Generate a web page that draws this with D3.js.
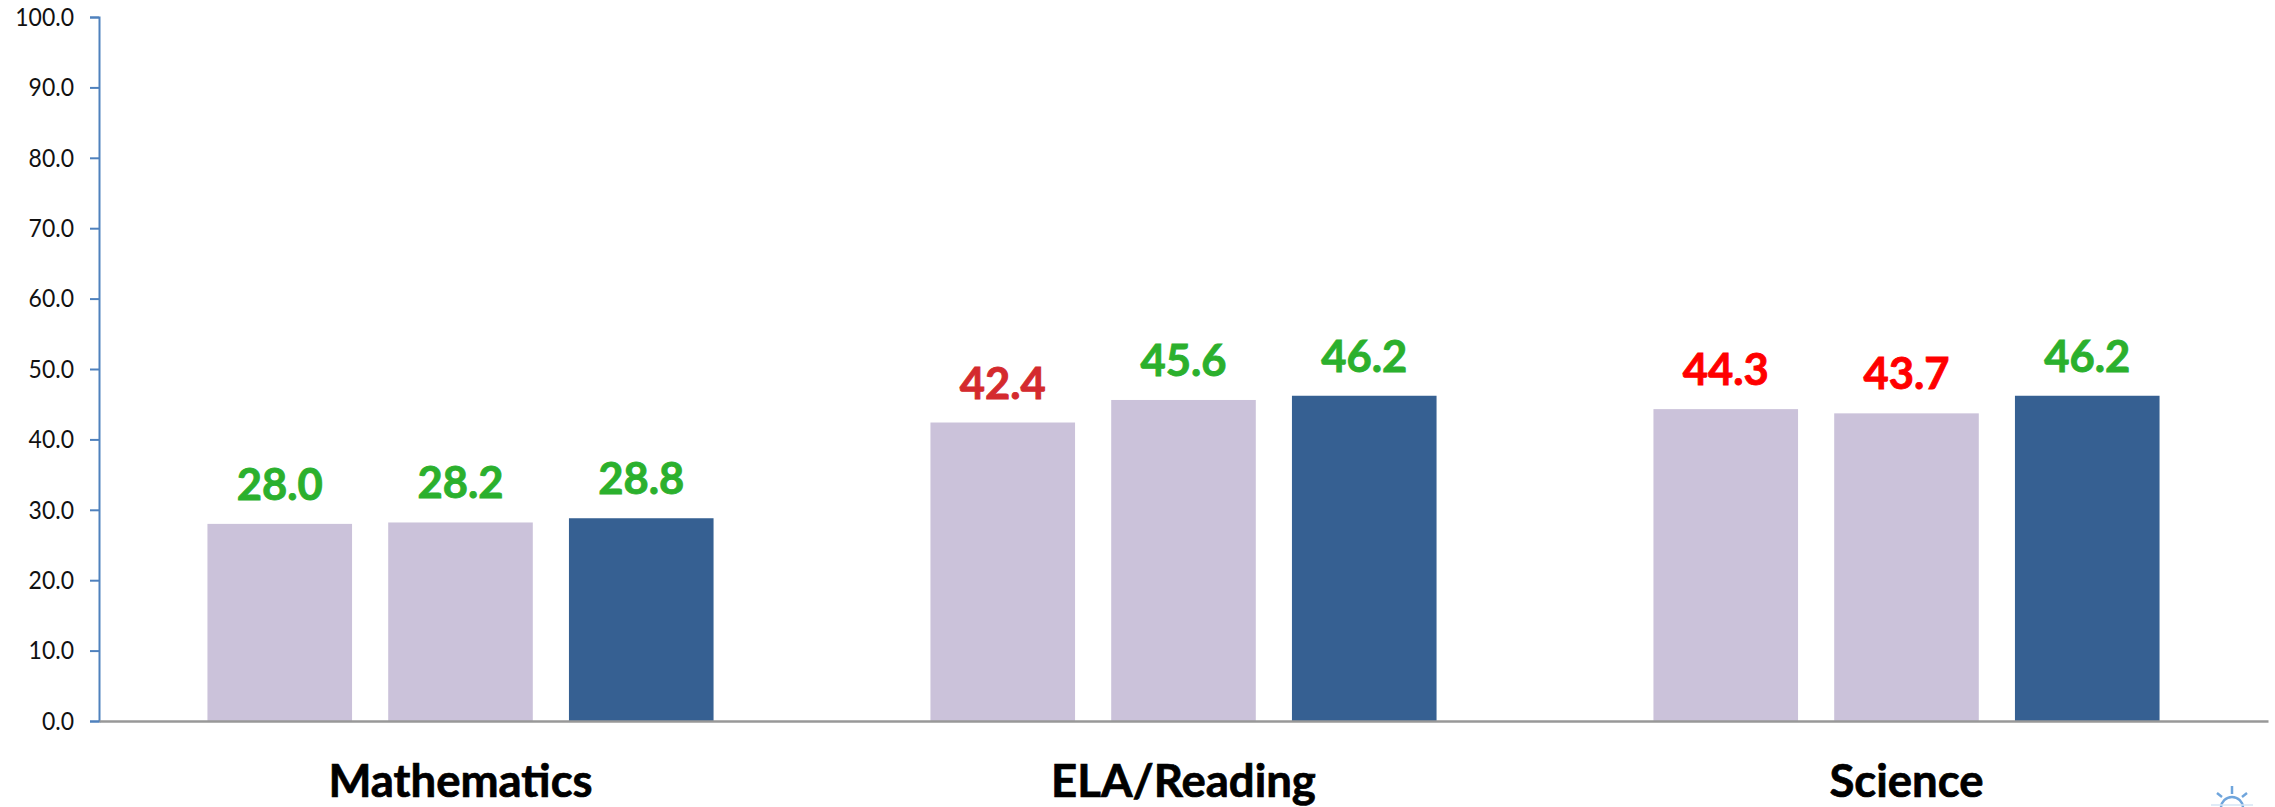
<!DOCTYPE html>
<html lang="en">
<head>
<meta charset="UTF-8">
<title>Proficiency by subject</title>
<script src="https://d3js.org/d3.v7.min.js"></script>
<style>
    html, body { margin: 0; padding: 0; background: #fff; }
    svg { display: block; }
    .y_axis text { font-family: Lato, "Liberation Sans", sans-serif; font-size: 23px; fill: #111; transform: scale(1, 1.12); }
    .y_axis path, .y_axis line { stroke: #4f81bd; stroke-width: 2px; }
    .x_axis path { stroke: #989898; stroke-width: 2.5px; }
    .x_axis line { display: none; }
    .x_axis text { font-family: Lato, "Liberation Sans", sans-serif; font-size: 45.5px; font-weight: 700; fill: #000; stroke: #000; stroke-width: 0.7px; }
    .val_label { font-family: Lato, "Liberation Sans", sans-serif; font-size: 43.5px; font-weight: 700; text-anchor: middle; stroke-width: 0.9px; }
    .sun_icon { fill: none; stroke: #6fa5dc; stroke-width: 2.5px; }
    .sun_icon .ground { stroke: #d5e4f4; stroke-width: 1.5px; }
</style>
</head>
<body>
<div id="chart"></div>
<script>
    // values
    var subjects = ["Mathematics", "ELA/Reading", "Science"];
    var seriesNames = ["first", "second", "third"];
    var firstValues = [28.0, 42.4, 44.3];
    var secondValues = [28.2, 45.6, 43.7];
    var thirdValues = [28.8, 46.2, 46.2];
    var yTicks = [0, 10, 20, 30, 40, 50, 60, 70, 80, 90, 100];

    var barColors = ["#cbc2da", "#cbc2da", "#366092"];
    var firstLabelColors = ["#2bb02d", "#d42a2e", "#ff0000"];
    var secondLabelColors = ["#2bb02d", "#2bb02d", "#ff0000"];
    var thirdLabelColors = ["#2bb02d", "#2bb02d", "#2bb02d"];

    var width = 2275, height = 807;
    var margin = {top: 17, right: 7, bottom: 86, left: 99};

    var svg = d3.select("#chart").append("svg")
        .attr("width", width)
        .attr("height", height);

    var x = d3.scaleBand().domain(subjects).range([margin.left, width - margin.right]);
    var x1 = d3.scaleBand().domain(seriesNames).range([0, x.bandwidth()])
        .paddingInner(0.2).paddingOuter(0.6);
    var y = d3.scaleLinear().domain([0, 100]).range([height - margin.bottom, margin.top]);

    var series = [
        {name: "first", values: firstValues, labels: firstLabelColors, color: barColors[0]},
        {name: "second", values: secondValues, labels: secondLabelColors, color: barColors[1]},
        {name: "third", values: thirdValues, labels: thirdLabelColors, color: barColors[2]}
    ];

    var groups = svg.selectAll(".series")
        .data(series)
        .enter().append("g")
        .attr("class", "series");

    // bars
    groups.selectAll("rect")
        .data(function(s) { return s.values.map(function(v, i) { return {v: v, i: i, s: s}; }); })
        .enter().append("rect")
        .attr("x", function(d) { return x(subjects[d.i]) + x1(d.s.name); })
        .attr("y", function(d) { return y(d.v); })
        .attr("width", x1.bandwidth())
        .attr("height", function(d) { return y(0) - y(d.v); })
        .attr("fill", function(d) { return d.s.color; });

    // value labels
    groups.selectAll("text")
        .data(function(s) { return s.values.map(function(v, i) { return {v: v, i: i, s: s}; }); })
        .enter().append("text")
        .attr("class", "val_label")
        .attr("x", function(d) { return x(subjects[d.i]) + x1(d.s.name) + x1.bandwidth() / 2; })
        .attr("y", function(d) { return y(d.v) - 24; })
        .attr("fill", function(d) { return d.s.labels[d.i]; })
        .attr("stroke", function(d) { return d.s.labels[d.i]; })
        .text(function(d) { return d.v.toFixed(1); });

    // y axis
    svg.append("g")
        .attr("class", "y_axis")
        .attr("transform", "translate(" + margin.left + ",0)")
        .call(d3.axisLeft(y).tickValues(yTicks).tickFormat(d3.format(".1f")).tickSize(9).tickSizeOuter(9).tickPadding(16));

    // x axis
    svg.append("g")
        .attr("class", "x_axis")
        .attr("transform", "translate(0," + y(0) + ")")
        .call(d3.axisBottom(x).tickSize(0).tickPadding(44));

    // small sun icon cut off at the bottom right corner
    var sun = svg.append("g")
        .attr("class", "sun_icon")
        .attr("transform", "translate(2232,808)");
    sun.append("circle").attr("r", 11);
    sun.append("line").attr("y1", -22).attr("y2", -14);
    sun.append("line").attr("x1", -15).attr("y1", -15).attr("x2", -10).attr("y2", -11);
    sun.append("line").attr("x1", 15).attr("y1", -15).attr("x2", 10).attr("y2", -11);
    sun.append("line").attr("class", "ground").attr("x1", -21).attr("y1", -3).attr("x2", 21).attr("y2", -3);
</script>
</body>
</html>
